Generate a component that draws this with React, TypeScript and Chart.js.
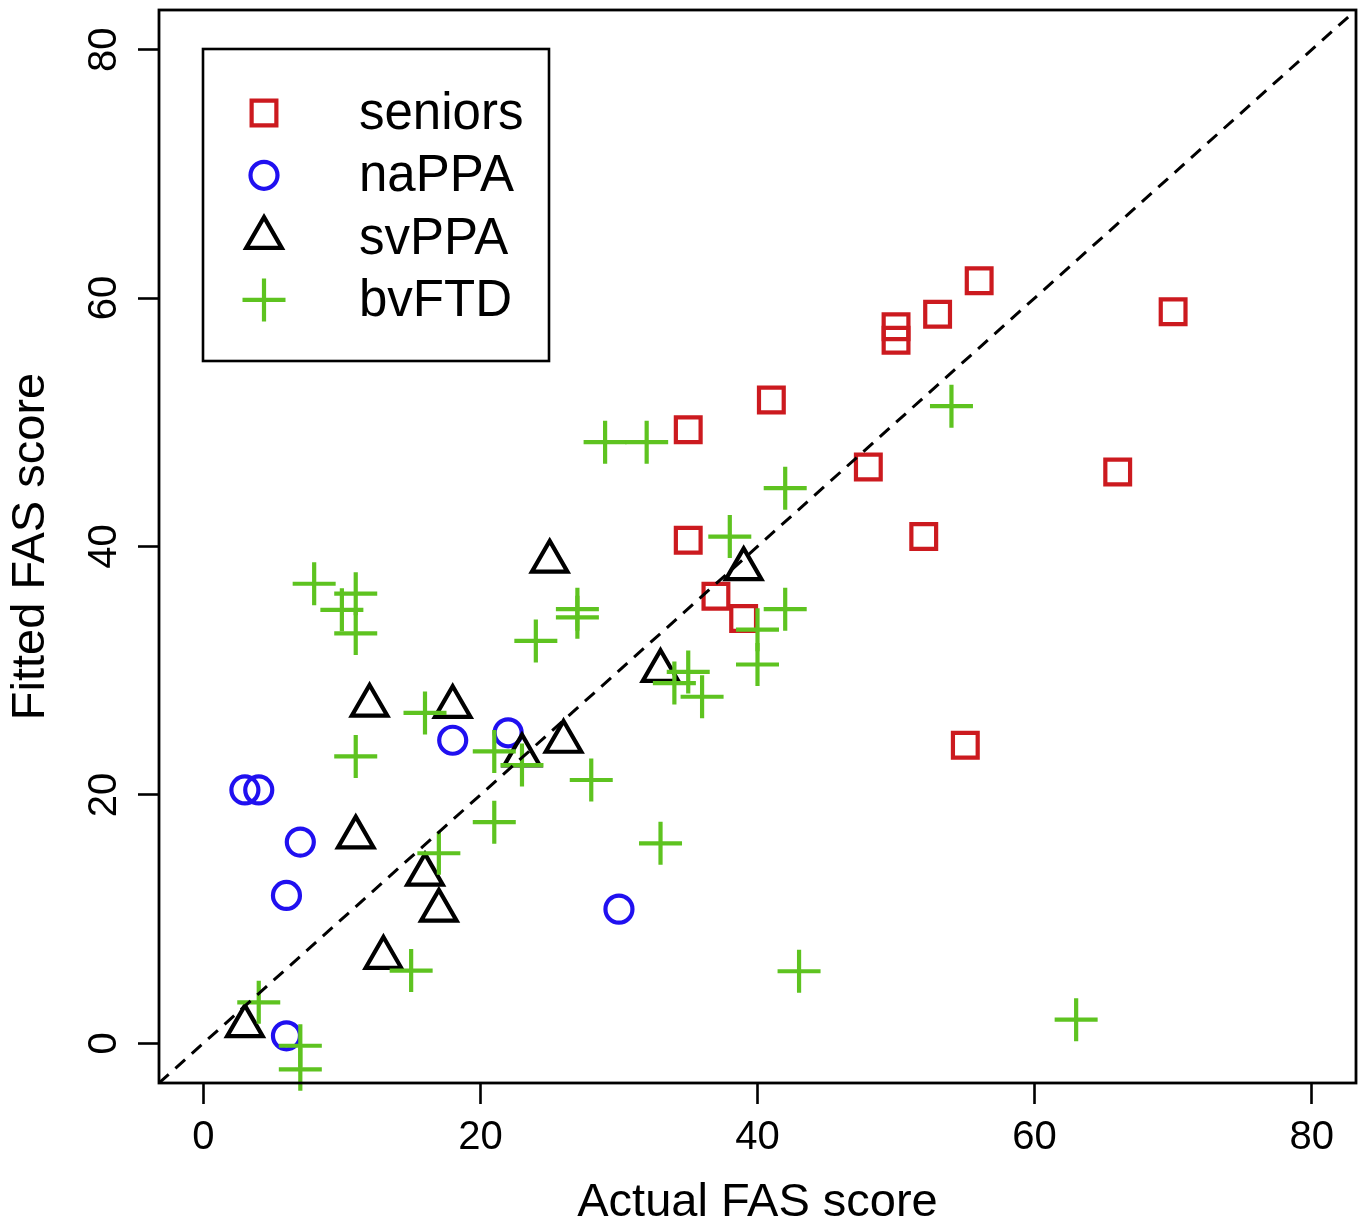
import React, { useEffect, useRef } from 'react';
import { Chart, registerables } from 'chart.js';

Chart.register(...registerables);

// ---- axis / labels ----
const AXIS_MIN = -3.2;
const AXIS_MAX = 83.2;
const TICK_VALUES = [0, 20, 40, 60, 80];
const X_TITLE = 'Actual FAS score';
const Y_TITLE = 'Fitted FAS score';
const GROUPS = ['seniors', 'naPPA', 'svPPA', 'bvFTD'];

// ---- data: actual (x) and fitted (y) FAS scores ----
const seniorsActual = [56, 53, 50, 50, 70, 41, 35, 48, 66, 35, 52, 37, 39, 55];
const seniorsFitted = [61.4, 58.7, 57.7, 56.6, 58.9, 51.8, 49.4, 46.4, 46.0, 40.5, 40.8, 36.0, 34.2, 24.0];

const naPPAActual = [3, 4, 7, 6, 18, 22, 30, 6];
const naPPAFitted = [20.4, 20.4, 16.2, 11.9, 24.4, 25.0, 10.8, 0.6];

const svPPAActual = [25, 39, 33, 12, 18, 26, 23, 11, 16, 17, 13, 3];
const svPPAFitted = [38.8, 38.2, 30.0, 27.2, 27.1, 24.3, 23.2, 16.6, 13.6, 10.7, 6.9, 1.4];

const bvFTDActual = [54, 29, 32, 42, 38, 8, 11, 10, 11, 27, 27, 24, 42, 40, 40, 35, 34, 36, 16, 11, 21, 23, 28, 21, 17, 33, 15, 43, 4, 7, 7, 63];
const bvFTDFitted = [51.3, 48.4, 48.4, 44.7, 40.8, 37.0, 36.2, 34.9, 33.0, 34.95, 34.3, 32.4, 34.95, 33.3, 30.5, 29.9, 29.0, 27.9, 26.6, 23.1, 23.5, 22.4, 21.2, 17.8, 15.3, 16.1, 5.85, 5.8, 3.3, -0.2, -2.1, 1.9];

const ACTUALS = [seniorsActual, naPPAActual, svPPAActual, bvFTDActual];
const FITTED = [seniorsFitted, naPPAFitted, svPPAFitted, bvFTDFitted];

// ---- styles ----
const FONT = '"Liberation Sans", Arial, Helvetica, sans-serif';
const MARKERS = [
  { style: 'rect', color: '#CC1A1F', radius: 17.5 },
  { style: 'circle', color: '#2010F0', radius: 13.5 },
  { style: 'triangle', color: '#000000', radius: 20.5 },
  { style: 'cross', color: '#5EC320', radius: 21.5 },
];
const MARKER_WIDTH = 4.2;

function drawMarker(ctx: CanvasRenderingContext2D, style: string, x: number, y: number, r: number) {
  ctx.beginPath();
  if (style === 'rect') {
    const s = Math.SQRT1_2 * r;
    ctx.rect(x - s, y - s, 2 * s, 2 * s);
  } else if (style === 'circle') {
    ctx.arc(x, y, r, 0, Math.PI * 2);
    ctx.closePath();
  } else if (style === 'triangle') {
    let rad = 0;
    ctx.moveTo(x + Math.sin(rad) * r, y - Math.cos(rad) * r);
    rad += (2 * Math.PI) / 3;
    ctx.lineTo(x + Math.sin(rad) * r, y - Math.cos(rad) * r);
    rad += (2 * Math.PI) / 3;
    ctx.lineTo(x + Math.sin(rad) * r, y - Math.cos(rad) * r);
    ctx.closePath();
  } else {
    ctx.moveTo(x - r, y);
    ctx.lineTo(x + r, y);
    ctx.moveTo(x, y - r);
    ctx.lineTo(x, y + r);
  }
  ctx.stroke();
}

const framePlugin = {
  id: 'frameAndLegend',
  afterDraw(chart: any) {
    const { ctx, chartArea: a } = chart;
    ctx.save();
    ctx.strokeStyle = '#000';
    ctx.lineWidth = 2.8;
    ctx.strokeRect(a.left, a.top, a.right - a.left, a.bottom - a.top);

    // legend box
    const bx = a.left + 44;
    const by = a.top + 39;
    const bw = 346;
    const bh = 312;
    ctx.fillStyle = '#fff';
    ctx.fillRect(bx, by, bw, bh);
    ctx.lineWidth = 2.6;
    ctx.strokeRect(bx, by, bw, bh);

    const rowGap = 62.3;
    ctx.font = `51px ${FONT}`;
    ctx.textBaseline = 'middle';
    ctx.textAlign = 'left';
    GROUPS.forEach((g, i) => {
      const ds = chart.data.datasets[i];
      const y = by + 64 + i * rowGap;
      ctx.strokeStyle = ds.borderColor;
      ctx.lineWidth = MARKER_WIDTH;
      drawMarker(ctx, ds.pointStyle, bx + 61, y, ds.pointRadius);
      ctx.fillStyle = '#000';
      ctx.fillText(g, bx + 156, y + 2);
    });
    ctx.restore();
  },
};

function noScalePadding(s: any) {
  s.paddingTop = 0;
  s.paddingBottom = 0;
  s.paddingLeft = 0;
  s.paddingRight = 0;
}

export default function App() {
  const ref = useRef<HTMLCanvasElement | null>(null);

  useEffect(() => {
    document.body.style.margin = '0';
    const canvas = ref.current;
    if (!canvas) return;

    const scatterSets = GROUPS.map((g, i) => ({
      type: 'scatter' as const,
      label: g,
      data: ACTUALS[i].map((x, j) => ({ x, y: FITTED[i][j] })),
      pointStyle: MARKERS[i].style,
      pointRadius: MARKERS[i].radius,
      pointHoverRadius: MARKERS[i].radius,
      borderColor: MARKERS[i].color,
      backgroundColor: 'rgba(0,0,0,0)',
      pointBorderWidth: MARKER_WIDTH,
      borderWidth: MARKER_WIDTH,
      showLine: false,
      clip: false,
      order: GROUPS.length - i,
    }));

    const identity = {
      type: 'line' as const,
      label: 'identity',
      data: [
        { x: AXIS_MIN, y: AXIS_MIN },
        { x: AXIS_MAX, y: AXIS_MAX },
      ],
      borderColor: '#000',
      borderWidth: 3,
      borderDash: [13, 9],
      pointRadius: 0,
      fill: false,
      order: -1,
    };

    const tickFont = { family: FONT, size: 40 };
    const titleFont = { family: FONT, size: 47, lineHeight: 1 };

    const chart = new Chart(canvas, {
      type: 'scatter',
      data: { datasets: [...scatterSets, identity] as any },
      options: {
        animation: false,
        responsive: false,
        devicePixelRatio: 1,
        events: [],
        layout: { autoPadding: false, padding: { top: 10, right: 7, left: 0, bottom: 0 } },
        plugins: { legend: { display: false }, tooltip: { enabled: false } },
        scales: {
          x: {
            type: 'linear',
            min: AXIS_MIN,
            max: AXIS_MAX,
            afterBuildTicks: (s: any) => {
              s.ticks = TICK_VALUES.map((v) => ({ value: v }));
            },
            afterFit: (s: any) => {
              s.height = 145;
              noScalePadding(s);
            },
            grid: {
              display: true,
              drawOnChartArea: false,
              drawTicks: true,
              tickLength: 21,
              tickWidth: 2.6,
              tickColor: '#000',
            },
            border: { display: false },
            ticks: { font: tickFont, color: '#000', padding: 10, maxRotation: 0, minRotation: 0, autoSkip: false },
            title: { display: true, text: X_TITLE, font: titleFont, color: '#000', padding: { top: 0, bottom: 1 } },
          },
          y: {
            type: 'linear',
            min: AXIS_MIN,
            max: AXIS_MAX,
            afterBuildTicks: (s: any) => {
              s.ticks = TICK_VALUES.map((v) => ({ value: v }));
            },
            afterFit: (s: any) => {
              s.width = 159;
              noScalePadding(s);
            },
            grid: {
              display: true,
              drawOnChartArea: false,
              drawTicks: true,
              tickLength: 21,
              tickWidth: 2.6,
              tickColor: '#000',
            },
            border: { display: false },
            ticks: {
              font: tickFont,
              color: '#000',
              padding: 11,
              minRotation: 90,
              maxRotation: 90,
              crossAlign: 'center',
              autoSkip: false,
            },
            title: { display: true, text: Y_TITLE, font: titleFont, color: '#000', padding: { top: 8, bottom: 0 } },
          },
        },
      } as any,
      plugins: [framePlugin],
    });

    return () => chart.destroy();
  }, []);

  return <canvas ref={ref} width={1363} height={1228} style={{ display: 'block' }} />;
}
